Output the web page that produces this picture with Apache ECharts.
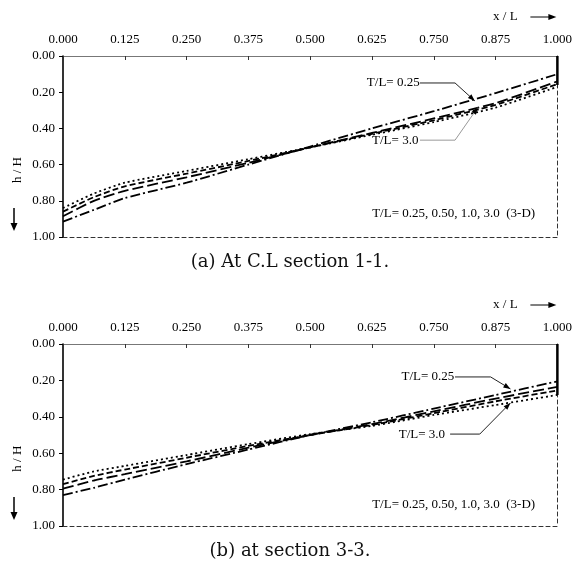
<!DOCTYPE html>
<html>
<head>
<meta charset="utf-8">
<script src="https://cdn.jsdelivr.net/npm/echarts@6/dist/echarts.min.js"></script>
<style>
html,body{margin:0;padding:0;background:#fff;}
#c{width:575px;height:569px;}
</style>
</head>
<body>
<div id="c"></div>
<script>
// ---- data ----
const xPos = [0, 0.0625, 0.125, 0.25, 0.375, 0.5, 0.625, 0.75, 0.875, 1.0];
const xTicks = ['0.000','0.125','0.250','0.375','0.500','0.625','0.750','0.875','1.000'];
const yTicks = ['0.00','0.20','0.40','0.60','0.80','1.00'];
const seriesNames = ['T/L= 0.25', 'T/L= 0.50', 'T/L= 1.0', 'T/L= 3.0'];

// (a) At C.L section 1-1
const a_TL025 = [0.915, 0.85, 0.785, 0.70, 0.60, 0.50, 0.40, 0.305, 0.205, 0.10];
const a_TL050 = [0.885, 0.80, 0.745, 0.67, 0.59, 0.505, 0.425, 0.345, 0.26, 0.14];
const a_TL100 = [0.86, 0.78, 0.72, 0.65, 0.58, 0.505, 0.43, 0.355, 0.27, 0.155];
const a_TL300 = [0.84, 0.76, 0.70, 0.635, 0.57, 0.505, 0.435, 0.365, 0.285, 0.17];
const a_wall = [0, 0.16];

// (b) at section 3-3
const b_TL025 = [0.83, 0.79, 0.745, 0.66, 0.58, 0.50, 0.43, 0.355, 0.28, 0.205];
const b_TL050 = [0.795, 0.75, 0.715, 0.645, 0.57, 0.50, 0.44, 0.37, 0.30, 0.235];
const b_TL100 = [0.77, 0.725, 0.69, 0.625, 0.56, 0.50, 0.445, 0.38, 0.315, 0.255];
const b_TL300 = [0.745, 0.70, 0.67, 0.61, 0.55, 0.495, 0.45, 0.39, 0.335, 0.28];
const b_wall = [0, 0.28];

const captions = ['(a) At C.L section 1-1.', '(b) at section 3-3.'];
const noteText = 'T/L= 0.25, 0.50, 1.0, 3.0  (3-D)';

// ---- styles ----
const dashStyles = [[10,3,2,3], [11,4], [6,3], [2,3]];
const serif = '"Liberation Serif", "Times New Roman", serif';
const ink = '#000';

const chart = echarts.init(document.getElementById('c'), null, {renderer:'canvas'});

function axesFor(g) {
  const xs = [
    {gridIndex:g, type:'value', position:'top', min:0, max:1, interval:0.125,
     axisLine:{onZero:false, lineStyle:{color:'#777', width:1}},
     axisTick:{inside:true, length:4, lineStyle:{color:'#333', width:1}},
     axisLabel:{margin:10, color:ink, fontFamily:serif, fontSize:13,
       formatter:(v)=>xTicks[Math.round(v/0.125)]},
     splitLine:{show:false}},
    {gridIndex:g, type:'value', position:'bottom', min:0, max:1,
     axisLine:{onZero:false, lineStyle:{color:'#333', width:1, type:[4,3]}},
     axisTick:{show:false}, axisLabel:{show:false}, splitLine:{show:false}}
  ];
  const ys = [
    {gridIndex:g, type:'value', position:'left', inverse:true, min:0, max:1, interval:0.2,
     axisLine:{onZero:false, lineStyle:{color:'#000', width:1.6}},
     axisTick:{inside:false, length:4, lineStyle:{color:'#000', width:1}},
     axisLabel:{margin:8, color:ink, fontFamily:serif, fontSize:13,
       formatter:(v)=>yTicks[Math.round(v/0.2)]},
     splitLine:{show:false}},
    {gridIndex:g, type:'value', position:'right', inverse:true, min:0, max:1,
     axisLine:{onZero:false, lineStyle:{color:'#333', width:1, type:[4,3]}},
     axisTick:{show:false}, axisLabel:{show:false}, splitLine:{show:false}}
  ];
  return {xs, ys};
}
const A0 = axesFor(0), A1 = axesFor(1);

function mk(arr, idx, g) {
  return {type:'line', xAxisIndex:g*2, yAxisIndex:g*2, name:seriesNames[idx],
    data: xPos.map((x,i)=>[x, arr[i]]), showSymbol:false, symbol:'none', smooth:0.2,
    lineStyle:{color:'#000', width:1.8, type:dashStyles[idx]}, z:3, silent:true};
}
function wall(arr, g) {
  return {type:'line', xAxisIndex:g*2, yAxisIndex:g*2, data: arr.map(v=>[1, v]),
    symbol:'none', lineStyle:{color:'#000', width:2.5, type:'solid'}, z:4, silent:true};
}

const option = {
  animation:false,
  backgroundColor:'#fff',
  grid:[
    {left:63, right:13, top:56, height:181},
    {left:63, right:13, top:344, height:182}
  ],
  xAxis:[...A0.xs, ...A1.xs],
  yAxis:[...A0.ys, ...A1.ys],
  series:[
    mk(a_TL025,0,0), mk(a_TL050,1,0), mk(a_TL100,2,0), mk(a_TL300,3,0), wall(a_wall,0),
    mk(b_TL025,0,1), mk(b_TL050,1,1), mk(b_TL100,2,1), mk(b_TL300,3,1), wall(b_wall,1)
  ]
};
chart.setOption(option);

// ---- annotations (anchored in data coordinates) ----
const annA = {
  t025:{text:[0.668,0.149], path:[[0.722,0.149],[0.793,0.149],[0.833,0.248]], color:'#222'},
  t300:{text:[0.672,0.465], path:[[0.722,0.465],[0.793,0.465],[0.839,0.285]], color:'#999'},
  note:[0.955,0.873]
};
const annB = {
  t025:{text:[0.738,0.181], path:[[0.793,0.181],[0.865,0.181],[0.905,0.247]], color:'#222'},
  t300:{text:[0.726,0.495], path:[[0.783,0.495],[0.843,0.495],[0.905,0.324]], color:'#222'},
  note:[0.955,0.884]
};

function px(g, p){ return chart.convertToPixel({xAxisIndex:g*2, yAxisIndex:g*2}, p); }

function arrowHead(tip, from, color, len, wid) {
  const dx = tip[0]-from[0], dy = tip[1]-from[1];
  const L = Math.hypot(dx,dy) || 1;
  const ux = dx/L, uy = dy/L;
  const bx = tip[0]-ux*len, by = tip[1]-uy*len;
  return {type:'polygon', shape:{points:[tip,[bx-uy*wid, by+ux*wid],[bx+uy*wid, by-ux*wid]]},
    style:{fill:color}, z:10, silent:true};
}

const gr = [];
function addAnn(g, ann) {
  [ann.t025, ann.t300].forEach((a, k) => {
    const tp = px(g, a.text);
    gr.push({type:'text', x:tp[0], y:tp[1], z:10, silent:true,
      style:{text: k===0 ? seriesNames[0] : seriesNames[3], fill:ink, font:'13px ' + serif,
        textAlign:'center', textVerticalAlign:'middle'}});
    const pts = a.path.map(p=>px(g,p));
    gr.push({type:'polyline', shape:{points:pts}, style:{stroke:a.color, lineWidth:1, fill:null}, z:10, silent:true});
    gr.push(arrowHead(pts[2], pts[1], '#000', 7, 2.6));
  });
  const np = px(g, ann.note);
  gr.push({type:'text', x:np[0], y:np[1], z:10, silent:true,
    style:{text:noteText, fill:ink, font:'13px ' + serif, textAlign:'right', textVerticalAlign:'middle'}});
}
addAnn(0, annA);
addAnn(1, annB);

// axis names with arrows and captions
function addFrame(g) {
  const topLeft = px(g,[0,0]);
  const botRight = px(g,[1,1]);
  const yTitle = topLeft[1] - 39;
  gr.push({type:'text', x:botRight[0]-52, y:yTitle, z:10, silent:true,
    style:{text:'x / L', fill:ink, font:'13px ' + serif, textAlign:'center', textVerticalAlign:'middle'}});
  const a0 = [botRight[0]-27, yTitle], a1 = [botRight[0]-1, yTitle];
  gr.push({type:'line', shape:{x1:a0[0], y1:a0[1], x2:a1[0]-5, y2:a1[1]}, style:{stroke:'#000', lineWidth:1}, z:10, silent:true});
  gr.push(arrowHead(a1, a0, '#000', 8, 3));
  const midY = topLeft[1] + (botRight[1]-topLeft[1]) * 0.63;
  gr.push({type:'text', x:18, y:midY, rotation:Math.PI/2, z:10, silent:true,
    style:{text:'h / H', fill:ink, font:'13px ' + serif, textAlign:'center', textVerticalAlign:'middle'}});
  const d0 = [14, botRight[1]-29], d1 = [14, botRight[1]-6];
  gr.push({type:'line', shape:{x1:d0[0], y1:d0[1], x2:d1[0], y2:d1[1]-5}, style:{stroke:'#000', lineWidth:1.5}, z:10, silent:true});
  gr.push(arrowHead(d1, d0, '#000', 8, 3.5));
  gr.push({type:'text', x:290, y:botRight[1]+25, z:10, silent:true,
    style:{text:captions[g], fill:'#111', font:'18px "DejaVu Serif", serif', textAlign:'center', textVerticalAlign:'middle'}});
}
addFrame(0);
addFrame(1);

chart.setOption({graphic:{elements:gr}});
</script>
</body>
</html>
